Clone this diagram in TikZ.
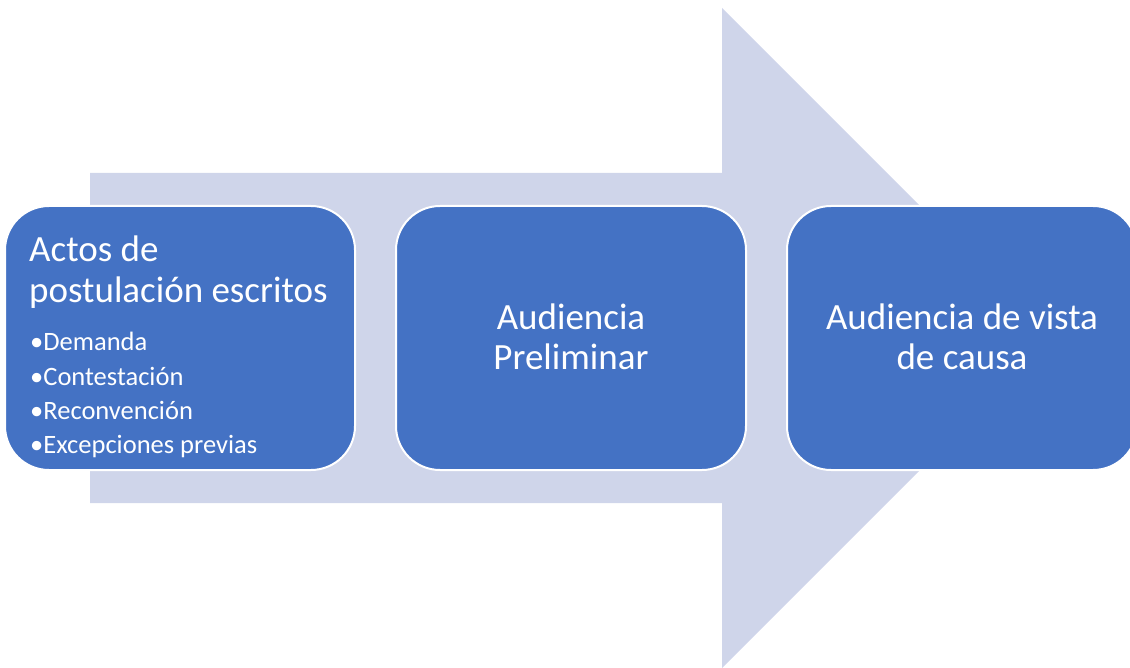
\documentclass[tikz,border=0pt]{standalone}
\usepackage{fontspec}
\setmainfont{Carlito}
\definecolor{arrowc}{HTML}{CFD5EA}
\definecolor{boxc}{HTML}{4472C4}
\begin{document}
\begin{tikzpicture}[x=1pt,y=-1pt,
  box/.style={rectangle, rounded corners=44pt, minimum width=350pt, minimum height=264pt, fill=boxc, draw=white, line width=2pt, inner sep=0pt},
  title/.style={text=white, font=\fontsize{37}{40}\selectfont, inner sep=0pt},
  item/.style={text=white, font=\fontsize{26.5}{30}\selectfont, inner sep=0pt, anchor=base west}]
\useasboundingbox (0,0) rectangle (1130,668);
\clip (0,0) rectangle (1130,668);
\fill[arrowc] (90,173) -- (722,173) -- (722,8) -- (1052,338) -- (722,668) -- (722,503) -- (90,503) -- cycle;
\node[box] (b1) at (180,338) {};
\node[box] (b2) at (571,338) {};
\node[box] (b3) at (962,338) {};
\node[title, anchor=base west] (t1a) at (29,262) {Actos de};
\node[title, anchor=base west] (t1b) at (29,303) {postulación escritos};
\node[item] (i1) at (30,351) {•Demanda};
\node[item] (i2) at (30,385) {•Contestación};
\node[item] (i3) at (30,419) {•Reconvención};
\node[item] (i4) at (30,453) {•Excepciones previas};
\node[title, anchor=base] (t2a) at (571,330) {Audiencia};
\node[title, anchor=base] (t2b) at (571,370) {Preliminar};
\node[title, anchor=base] (t3a) at (962,330) {Audiencia de vista};
\node[title, anchor=base] (t3b) at (962,370) {de causa};
\end{tikzpicture}
\end{document}
